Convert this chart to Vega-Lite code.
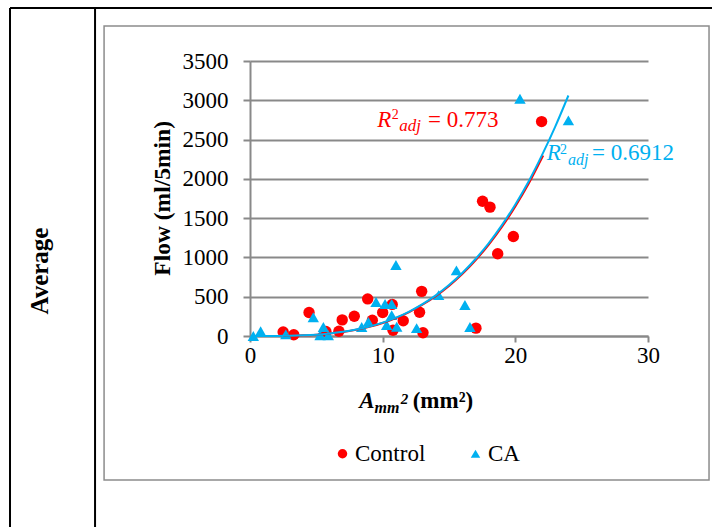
{
  "$schema": "https://vega.github.io/schema/vega-lite/v6.json",
  "width": 398,
  "height": 275,
  "autosize": {"type": "none"},
  "padding": {"left": 250, "top": 61, "right": 64, "bottom": 191},
  "background": "white",
  "config": {
    "view": {"stroke": null},
    "font": "Liberation Serif"
  },
  "encoding": {
    "x": {"field": "x", "type": "quantitative", "scale": {"domain": [0, 30], "nice": false, "zero": false},
      "axis": {"values": [0, 10, 20, 30], "format": "d", "title": null, "grid": false, "labelFont": "Liberation Serif", "labelFontSize": 23, "labelColor": "black", "labelPadding": 2, "labelFlush": false, "labelOverlap": false, "tickSize": 6, "tickColor": "#898989", "tickWidth": 2, "domainColor": "#898989", "domainWidth": 2}},
    "y": {"field": "y", "type": "quantitative", "scale": {"domain": [0, 3500], "nice": false, "zero": false},
      "axis": {"values": [0, 500, 1000, 1500, 2000, 2500, 3000, 3500], "format": "d", "title": null, "grid": true, "gridColor": "#898989", "gridWidth": 2, "labelFont": "Liberation Serif", "labelFontSize": 23, "labelColor": "black", "labelPadding": 15, "labelFlush": false, "labelOverlap": false, "tickSize": 7, "tickColor": "#898989", "tickWidth": 2, "domainColor": "#898989", "domainWidth": 2}}
  },
  "layer": [
    {
      "data": {"values": [{"x": -11.0, "x2": 34.6, "y": 3945, "y2": -1833}]},
      "mark": {"type": "rect", "filled": false, "stroke": "#8c8c8c", "strokeWidth": 1.5},
      "encoding": {"x2": {"field": "x2"}, "y2": {"field": "y2"}}
    },
    {
      "data": {"values": [
        {"x": -18.09, "x2": 36, "y": 4174, "y2": 4174},
        {"x": -18.09, "x2": -18.09, "y": 4174, "y2": -2600},
        {"x": -11.68, "x2": -11.68, "y": 4174, "y2": -2600}
      ]},
      "mark": {"type": "rule", "color": "black", "strokeWidth": 2},
      "encoding": {"x2": {"field": "x2"}, "y2": {"field": "y2"}}
    },
    {
      "data": {"values": [
        {"x": 2.5, "y": 50, "group": "Control"},
        {"x": 3.3, "y": 15, "group": "Control"},
        {"x": 4.45, "y": 300, "group": "Control"},
        {"x": 5.72, "y": 58, "group": "Control"},
        {"x": 6.7, "y": 60, "group": "Control"},
        {"x": 6.95, "y": 205, "group": "Control"},
        {"x": 7.86, "y": 252, "group": "Control"},
        {"x": 8.87, "y": 472, "group": "Control"},
        {"x": 9.22, "y": 200, "group": "Control"},
        {"x": 10.0, "y": 298, "group": "Control"},
        {"x": 10.72, "y": 402, "group": "Control"},
        {"x": 10.78, "y": 73, "group": "Control"},
        {"x": 11.55, "y": 193, "group": "Control"},
        {"x": 12.78, "y": 303, "group": "Control"},
        {"x": 12.94, "y": 568, "group": "Control"},
        {"x": 13.04, "y": 41, "group": "Control"},
        {"x": 17.03, "y": 100, "group": "Control"},
        {"x": 17.53, "y": 1715, "group": "Control"},
        {"x": 18.09, "y": 1640, "group": "Control"},
        {"x": 18.67, "y": 1046, "group": "Control"},
        {"x": 19.85, "y": 1266, "group": "Control"},
        {"x": 21.98, "y": 2729, "group": "Control"},
        {"x": 0.25, "y": 0, "group": "CA"},
        {"x": 0.8, "y": 60, "group": "CA"},
        {"x": 2.7, "y": 20, "group": "CA"},
        {"x": 4.77, "y": 238, "group": "CA"},
        {"x": 5.28, "y": 10, "group": "CA"},
        {"x": 5.53, "y": 115, "group": "CA"},
        {"x": 5.9, "y": 10, "group": "CA"},
        {"x": 8.42, "y": 115, "group": "CA"},
        {"x": 8.92, "y": 180, "group": "CA"},
        {"x": 9.5, "y": 433, "group": "CA"},
        {"x": 10.18, "y": 407, "group": "CA"},
        {"x": 10.3, "y": 140, "group": "CA"},
        {"x": 10.68, "y": 407, "group": "CA"},
        {"x": 10.68, "y": 265, "group": "CA"},
        {"x": 11.0, "y": 904, "group": "CA"},
        {"x": 11.06, "y": 118, "group": "CA"},
        {"x": 12.56, "y": 100, "group": "CA"},
        {"x": 14.22, "y": 520, "group": "CA"},
        {"x": 15.56, "y": 835, "group": "CA"},
        {"x": 16.2, "y": 395, "group": "CA"},
        {"x": 16.58, "y": 115, "group": "CA"},
        {"x": 20.35, "y": 3020, "group": "CA"},
        {"x": 24.0, "y": 2745, "group": "CA"}
      ]},
      "mark": {"type": "point", "filled": true, "size": 130, "opacity": 1},
      "encoding": {
        "color": {"field": "group", "type": "nominal", "scale": {"domain": ["Control", "CA"], "range": ["#FF0000", "#00B0F0"]},
          "legend": {"title": null, "orient": "none", "legendX": 81, "legendY": 381, "direction": "horizontal", "padding": 0, "labelFont": "Liberation Serif", "labelFontSize": 23, "labelColor": "black", "symbolSize": 90, "labelOffset": 1, "columnPadding": 38, "symbolStrokeWidth": 0}},
        "shape": {"field": "group", "type": "nominal", "scale": {"domain": ["Control", "CA"], "range": ["circle", "triangle-up"]},
          "legend": {"title": null, "orient": "none", "legendX": 81, "legendY": 381, "direction": "horizontal", "padding": 0, "labelFont": "Liberation Serif", "labelFontSize": 23, "labelColor": "black", "symbolSize": 90, "labelOffset": 1, "columnPadding": 38, "symbolStrokeWidth": 0}}
      }
    },
    {
      "data": {"values": [
        {"x": 2.5, "y": 1}, {"x": 3, "y": 3}, {"x": 4, "y": 8}, {"x": 5, "y": 17}, {"x": 6, "y": 31}, {"x": 7, "y": 51},
        {"x": 8, "y": 80}, {"x": 9, "y": 117}, {"x": 10, "y": 165}, {"x": 11, "y": 228}, {"x": 12, "y": 305},
        {"x": 13, "y": 398}, {"x": 14, "y": 508}, {"x": 15, "y": 638}, {"x": 16, "y": 789}, {"x": 17, "y": 964},
        {"x": 18, "y": 1164}, {"x": 19, "y": 1392}, {"x": 20, "y": 1649}, {"x": 21, "y": 1937}, {"x": 22, "y": 2264},
        {"x": 22.1, "y": 2298}
      ]},
      "mark": {"type": "line", "color": "#FF0000", "strokeWidth": 2, "interpolate": "monotone"}
    },
    {
      "data": {"values": [
        {"x": 0.25, "y": 0}, {"x": 1, "y": 0}, {"x": 2, "y": 1}, {"x": 3, "y": 3}, {"x": 4, "y": 8}, {"x": 5, "y": 17},
        {"x": 6, "y": 32}, {"x": 7, "y": 53}, {"x": 8, "y": 82}, {"x": 9, "y": 120}, {"x": 10, "y": 170},
        {"x": 11, "y": 233}, {"x": 12, "y": 311}, {"x": 13, "y": 405}, {"x": 14, "y": 517}, {"x": 15, "y": 649},
        {"x": 16, "y": 802}, {"x": 17, "y": 980}, {"x": 18, "y": 1183}, {"x": 19, "y": 1414}, {"x": 20, "y": 1674},
        {"x": 21, "y": 1967}, {"x": 22, "y": 2299}, {"x": 23, "y": 2662}, {"x": 24, "y": 3061}
      ]},
      "mark": {"type": "line", "color": "#00B0F0", "strokeWidth": 2, "interpolate": "monotone"}
    },
    {
      "data": {"values": [{"x": 9.6, "y": 2664, "label": "R"}]},
      "mark": {"type": "text", "fontSize": 23, "fontStyle": "italic", "color": "#FF0000", "align": "left", "baseline": "alphabetic"},
      "encoding": {"text": {"field": "label"}}
    },
    {
      "data": {"values": [{"x": 10.68, "y": 2759, "label": "2"}]},
      "mark": {"type": "text", "fontSize": 14, "color": "#FF0000", "align": "left", "baseline": "alphabetic"},
      "encoding": {"text": {"field": "label"}}
    },
    {
      "data": {"values": [{"x": 11.25, "y": 2609, "label": "adj"}]},
      "mark": {"type": "text", "fontSize": 17, "fontStyle": "italic", "color": "#FF0000", "align": "left", "baseline": "alphabetic"},
      "encoding": {"text": {"field": "label"}}
    },
    {
      "data": {"values": [{"x": 13.42, "y": 2664, "label": "= 0.773"}]},
      "mark": {"type": "text", "fontSize": 23, "color": "#FF0000", "align": "left", "baseline": "alphabetic"},
      "encoding": {"text": {"field": "label"}}
    },
    {
      "data": {"values": [{"x": 22.36, "y": 2240, "label": "R"}]},
      "mark": {"type": "text", "fontSize": 23, "fontStyle": "italic", "color": "#00B0F0", "align": "left", "baseline": "alphabetic"},
      "encoding": {"text": {"field": "label"}}
    },
    {
      "data": {"values": [{"x": 23.37, "y": 2320, "label": "2"}]},
      "mark": {"type": "text", "fontSize": 14, "color": "#00B0F0", "align": "left", "baseline": "alphabetic"},
      "encoding": {"text": {"field": "label"}}
    },
    {
      "data": {"values": [{"x": 23.97, "y": 2176, "label": "adj"}]},
      "mark": {"type": "text", "fontSize": 16, "fontStyle": "italic", "color": "#00B0F0", "align": "left", "baseline": "alphabetic"},
      "encoding": {"text": {"field": "label"}}
    },
    {
      "data": {"values": [{"x": 25.78, "y": 2240, "label": "= 0.6912"}]},
      "mark": {"type": "text", "fontSize": 23, "color": "#00B0F0", "align": "left", "baseline": "alphabetic"},
      "encoding": {"text": {"field": "label"}}
    },
    {
      "data": {"values": [{"x": 8.24, "y": -920, "label": "A"}]},
      "mark": {"type": "text", "fontSize": 23, "fontStyle": "italic", "fontWeight": "bold", "color": "black", "align": "left", "baseline": "alphabetic"},
      "encoding": {"text": {"field": "label"}}
    },
    {
      "data": {"values": [{"x": 9.38, "y": -983, "label": "mm"}]},
      "mark": {"type": "text", "fontSize": 16, "fontStyle": "italic", "fontWeight": "bold", "color": "black", "align": "left", "baseline": "alphabetic"},
      "encoding": {"text": {"field": "label"}}
    },
    {
      "data": {"values": [{"x": 11.36, "y": -865, "label": "2"}]},
      "mark": {"type": "text", "fontSize": 15, "fontStyle": "italic", "fontWeight": "bold", "color": "black", "align": "left", "baseline": "alphabetic"},
      "encoding": {"text": {"field": "label"}}
    },
    {
      "data": {"values": [{"x": 12.26, "y": -920, "label": "(mm²)"}]},
      "mark": {"type": "text", "fontSize": 23, "fontWeight": "bold", "color": "black", "align": "left", "baseline": "alphabetic"},
      "encoding": {"text": {"field": "label"}}
    },
    {
      "data": {"values": [{"x": -6.595, "y": 1752, "label": "Flow (ml/5min)"}]},
      "mark": {"type": "text", "fontSize": 23.5, "fontWeight": "bold", "color": "black", "align": "center", "baseline": "middle", "angle": 270},
      "encoding": {"text": {"field": "label"}}
    },
    {
      "data": {"values": [{"x": -15.83, "y": 827, "label": "Average"}]},
      "mark": {"type": "text", "fontSize": 25, "fontWeight": "bold", "color": "black", "align": "center", "baseline": "middle", "angle": 270},
      "encoding": {"text": {"field": "label"}}
    }
  ]
}
